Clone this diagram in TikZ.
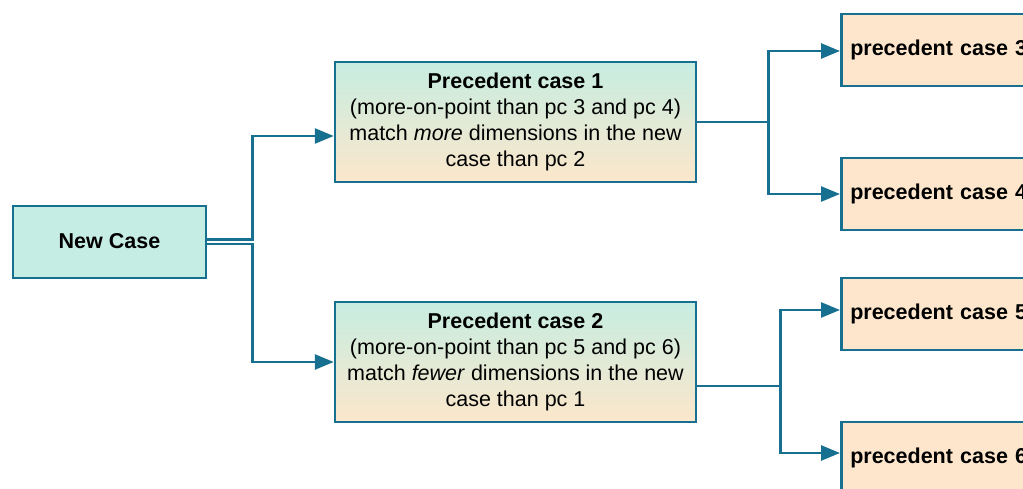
\documentclass[tikz,border=0pt]{standalone}
\usepackage{fontspec}
\setmainfont{Liberation Sans}
\usetikzlibrary{arrows.meta}
\definecolor{edge}{RGB}{24,112,145}
\definecolor{mint}{RGB}{198,237,228}
\definecolor{minttop}{RGB}{198,237,225}
\definecolor{peachbot}{RGB}{252,231,203}
\definecolor{peach}{RGB}{253,230,204}
\begin{document}
\begin{tikzpicture}[x=1pt,y=-1pt,
  box/.style={draw=edge, line width=2.5pt, rectangle, inner sep=0pt,
    font=\fontsize{21.5}{26}\selectfont},
  newbox/.style={box, fill=mint, minimum width=193pt, minimum height=72pt,
    font=\fontsize{21.5}{26}\selectfont\bfseries},
  midbox/.style={box, top color=minttop, bottom color=peachbot,
    minimum width=361pt, minimum height=120pt, align=center},
  leafbox/.style={box, fill=peach, minimum height=72pt, text width=200pt,
    inner xsep=9pt, align=left, anchor=west,
    font=\fontsize{21.5}{26}\selectfont\bfseries},
  link/.style={draw=edge, line width=2.75pt},
  arrowlink/.style={link, -{Triangle[length=19pt,width=15pt]}}
]
\useasboundingbox (0,0) rectangle (1023,489);
\clip (0,0) rectangle (1023,489);

% root case
\node[newbox] (nc) at (109.5,242) {\raisebox{2pt}{New Case}};

% first-level precedents
\node[midbox] (pc1) at (515.5,122) {\textbf{Precedent case 1}\\
  (more-on-point than pc 3 and pc 4)\\
  match \textit{more} dimensions in the new\\
  case than pc 2};
\node[midbox] (pc2) at (515.5,362) {\textbf{Precedent case 2}\\
  (more-on-point than pc 5 and pc 6)\\
  match \textit{fewer} dimensions in the new\\
  case than pc 1};

% second-level precedents
\node[leafbox] (pc3) at (840,50)  {precedent case 3};
\node[leafbox] (pc4) at (840,194) {precedent case 4};
\node[leafbox] (pc5) at (840,314) {precedent case 5};
\node[leafbox] (pc6) at (840,458) {precedent case 6};

% attachment points
\coordinate (pc1in)  at ([yshift=-14pt]pc1.west);
\coordinate (pc2out) at ([yshift=-24pt]pc2.east);

% connectors
\draw[arrowlink] ([yshift=2.5pt]nc.east) -- ++(45,0) |- (pc1in);
\draw[arrowlink] ([yshift=-2pt]nc.east) -- ++(45,0) |- (pc2.west);

\draw[arrowlink] (pc1.east) -- ++(71.5,0) |- ([yshift=-1pt]pc3.west);
\draw[arrowlink] (pc1.east) -- ++(71.5,0) |- (pc4.west);

\draw[arrowlink] (pc2out) -- ++(83,0) |- ([yshift=4pt]pc5.west);
\draw[arrowlink] (pc2out) -- ++(83,0) |- ([yshift=5pt]pc6.west);
\end{tikzpicture}
\end{document}
